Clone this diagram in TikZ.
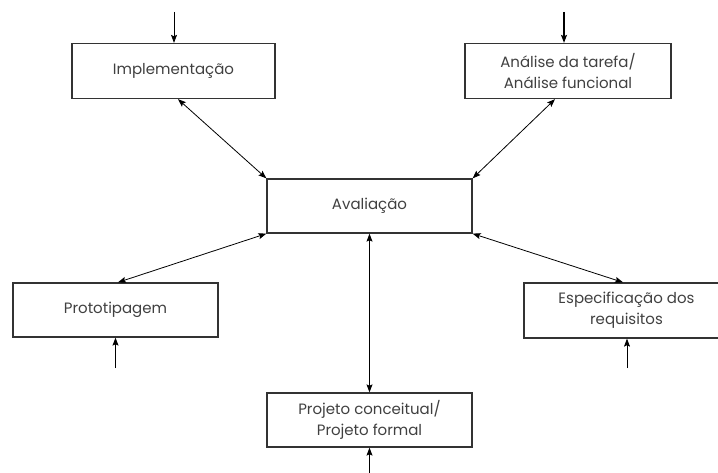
\documentclass[tikz,border=0pt]{standalone}
\usepackage{fontspec}
\setmainfont{Poppins}
\usetikzlibrary{arrows.meta}
\begin{document}
\begin{tikzpicture}[x=1pt,y=-1pt,
  box/.style={draw=black!80, line width=1.3pt, minimum width=#1, minimum height=55pt,
    align=center, inner sep=0pt, text=black!75,
    font=\fontsize{15}{21}\selectfont},
  link/.style={line width=0.8pt, {Stealth[length=8pt,width=6pt,inset=1.5pt]}-{Stealth[length=8pt,width=6pt,inset=1.5pt]}},
  feed/.style={line width=0.8pt, -{Stealth[length=8pt,width=6pt,inset=1.5pt]}}]
\useasboundingbox (0,0) rectangle (718,473);
\clip (0,0) rectangle (718,473);

% stages of the cycle
\node[box=203pt] (impl)  at (173.5,71)  {Implementação};
\node[box=206pt] (anal)  at (568,71)    {Análise da tarefa/\\Análise funcional};
\node[box=205pt, minimum height=54pt] (aval)  at (369.5,206) {Avaliação};
\node[box=205pt, minimum height=54pt] (proto) at (115.5,310) {Prototipagem};
\node[box=205pt] (espec) at (626.5,310.5) {Especificação dos\\requisitos};
\node[box=205pt, minimum height=54pt] (proj)  at (369.5,420) {Projeto conceitual/\\Projeto formal};

% entry points
\coordinate (in1) at (174,12);
\coordinate (in2) at (564,12);
\coordinate (in3) at (115.5,368);
\coordinate (in4) at (627,368);
\coordinate (in5) at (369.5,473);

\draw[feed] (in1) -- (in1 |- impl.north);
\draw[feed, line width=1.2pt] (in2) -- (in2 |- anal.north);
\draw[feed] (in3) -- (in3 |- proto.south);
\draw[feed] (in4) -- (in4 |- espec.south);
\draw[feed] (in5) -- (proj.south);

% links to the evaluation
\draw[link] ([xshift=4.5pt]impl.south) -- (aval.north west);
\draw[link] ([xshift=-13pt]anal.south) -- (aval.north east);
\draw[link] (aval.south west) -- ([xshift=2.5pt]proto.north);
\draw[link] (aval.south east) -- ([xshift=-3.5pt]espec.north);
\draw[link] (aval.south) -- (proj.north);
\end{tikzpicture}
\end{document}
